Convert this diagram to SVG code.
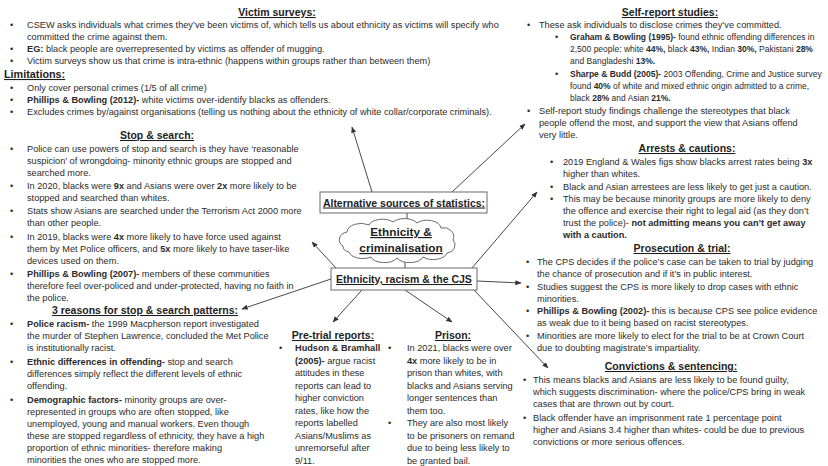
<svg xmlns="http://www.w3.org/2000/svg" width="828" height="466" viewBox="0 0 828 466">
<defs>
<style>
.t{font-family:"Liberation Sans",Arial,sans-serif;font-size:9.2px;fill:#2b2b2b}
.s{font-size:8.5px}
.h{font-family:"Liberation Sans",Arial,sans-serif;font-size:10.5px;font-weight:bold;text-decoration:underline;fill:#1e1e1e;text-anchor:middle}
.b{font-weight:bold}
.box{fill:#fff;stroke:#6a6a6a;stroke-width:1}
.c{stroke:#333;stroke-width:0.9;fill:none}
.a{marker-end:url(#ah)}
</style>
<marker id="ah" viewBox="0 0 10 10" refX="9" refY="5" markerWidth="7" markerHeight="7" orient="auto"><path d="M0,1 L10,5 L0,9 z" fill="#333"/></marker>
</defs>
<rect width="828" height="466" fill="#fff"/>

<g id="connectors">
<line class="c a" x1="372" y1="192" x2="352" y2="127"/>
<line class="c a" x1="452" y1="192" x2="525" y2="124"/>
<line class="c a" x1="472" y1="268" x2="537" y2="192"/>
<line class="c a" x1="477" y1="281" x2="521" y2="283"/>
<line class="c a" x1="474" y1="290" x2="548" y2="368"/>
<line class="c a" x1="405" y1="290" x2="452" y2="322"/>
<line class="c a" x1="362" y1="290" x2="333" y2="322"/>
<line class="c a" x1="331" y1="279" x2="242" y2="309"/>
<line class="c a" x1="336" y1="268" x2="312" y2="242"/>
<line class="c" x1="407" y1="213" x2="407" y2="223"/>
<line class="c" x1="405" y1="258" x2="405" y2="268"/>
</g>

<g id="alt-sources">
<rect class="box" x="320" y="192" width="167" height="21"/>
<text class="h" x="404" y="206.5">Alternative sources of statistics:</text>
</g>

<g id="cloud">
<path class="box" d="M343,246 a10,8 0 0 1 4,-14 a14,9 0 0 1 22,-7 a14,8 0 0 1 24,-3 a14,8 0 0 1 24,1 a14,9 0 0 1 24,5 a10,9 0 0 1 12,12 a9,8 0 0 1 -6,13 a14,8 0 0 1 -24,4 a14,8 0 0 1 -26,1 a14,8 0 0 1 -26,-1 a14,8 0 0 1 -22,-5 a8,6 0 0 1 -6,-6 z"/>
<text class="h" style="font-size:11.8px" x="401" y="236">Ethnicity &amp;</text>
<text class="h" style="font-size:11.8px" x="401" y="252">criminalisation</text>
</g>

<g id="cjs">
<rect class="box" x="331" y="268" width="146" height="22"/>
<text class="h" x="404" y="283">Ethnicity, racism &amp; the CJS</text>
</g>

<g id="victim-surveys">
<text class="h" x="277" y="16">Victim surveys:</text>
<text class="t" x="10" y="28">•</text>
<text class="t" x="27" y="28">CSEW asks individuals what crimes they’ve been victims of, which tells us about ethnicity as victims will specify who</text>
<text class="t" x="27" y="40">committed the crime against them.</text>
<text class="t" x="10" y="52">•</text>
<text class="t" x="27" y="52"><tspan class="b">EG:</tspan> black people are overrepresented by victims as offender of mugging.</text>
<text class="t" x="10" y="64">•</text>
<text class="t" x="27" y="64">Victim surveys show us that crime is intra-ethnic (happens within groups rather than between them)</text>
<text class="h" style="text-anchor:start;font-size:10.8px" x="4" y="78">Limitations:</text>
<text class="t" x="10" y="91">•</text>
<text class="t" x="27" y="91">Only cover personal crimes (1/5 of all crime)</text>
<text class="t" x="10" y="103">•</text>
<text class="t" x="27" y="103"><tspan class="b">Phillips &amp; Bowling (2012)-</tspan> white victims over-identify blacks as offenders.</text>
<text class="t" x="10" y="115">•</text>
<text class="t" x="27" y="115">Excludes crimes by/against organisations (telling us nothing about the ethnicity of white collar/corporate criminals).</text>
</g>

<g id="stop-search">
<text class="h" x="157" y="139">Stop &amp; search:</text>
<text class="t" x="10" y="152">•</text>
<text class="t" x="27" y="152">Police can use powers of stop and search is they have ‘reasonable</text>
<text class="t" x="27" y="164">suspicion’ of wrongdoing- minority ethnic groups are stopped and</text>
<text class="t" x="27" y="176">searched more.</text>
<text class="t" x="10" y="189">•</text>
<text class="t" x="27" y="189">In 2020, blacks were <tspan class="b">9x</tspan> and Asians were over <tspan class="b">2x</tspan> more likely to be</text>
<text class="t" x="27" y="201">stopped and searched than whites.</text>
<text class="t" x="10" y="214">•</text>
<text class="t" x="27" y="214">Stats show Asians are searched under the Terrorism Act 2000 more</text>
<text class="t" x="27" y="226">than other people.</text>
<text class="t" x="10" y="240">•</text>
<text class="t" x="27" y="240">In 2019, blacks were <tspan class="b">4x</tspan> more likely to have force used against</text>
<text class="t" x="27" y="252">them by Met Police officers, and <tspan class="b">5x</tspan> more likely to have taser-like</text>
<text class="t" x="27" y="264">devices used on them.</text>
<text class="t" x="10" y="277">•</text>
<text class="t" x="27" y="277"><tspan class="b">Phillips &amp; Bowling (2007)-</tspan> members of these communities</text>
<text class="t" x="27" y="289">therefore feel over-policed and under-protected, having no faith in</text>
<text class="t" x="27" y="301">the police.</text>
</g>

<g id="three-reasons">
<text class="h" x="145" y="314">3 reasons for stop &amp; search patterns:</text>
<text class="t" x="10" y="327">•</text>
<text class="t" x="27" y="327"><tspan class="b">Police racism-</tspan> the 1999 Macpherson report investigated</text>
<text class="t" x="27" y="339">the murder of Stephen Lawrence, concluded the Met Police</text>
<text class="t" x="27" y="351">is institutionally racist.</text>
<text class="t" x="10" y="365">•</text>
<text class="t" x="27" y="365"><tspan class="b">Ethnic differences in offending-</tspan> stop and search</text>
<text class="t" x="27" y="377">differences simply reflect the different levels of ethnic</text>
<text class="t" x="27" y="389">offending.</text>
<text class="t" x="10" y="403">•</text>
<text class="t" x="27" y="403"><tspan class="b">Demographic factors-</tspan> minority groups are over-</text>
<text class="t" x="27" y="415">represented in groups who are often stopped, like</text>
<text class="t" x="27" y="427">unemployed, young and manual workers. Even though</text>
<text class="t" x="27" y="439">these are stopped regardless of ethnicity, they have a high</text>
<text class="t" x="27" y="451">proportion of ethnic minorities- therefore making</text>
<text class="t" x="27" y="463">minorities the ones who are stopped more.</text>
</g>

<g id="pre-trial">
<text class="h" x="333" y="339">Pre-trial reports:</text>
<text class="t" x="279" y="351">•</text>
<text class="t" x="295" y="351"><tspan class="b">Hudson &amp; Bramhall</tspan></text>
<text class="t" x="295" y="364"><tspan class="b">(2005)-</tspan> argue racist</text>
<text class="t" x="295" y="376">attitudes in these</text>
<text class="t" x="295" y="389">reports can lead to</text>
<text class="t" x="295" y="401">higher conviction</text>
<text class="t" x="295" y="414">rates, like how the</text>
<text class="t" x="295" y="426">reports labelled</text>
<text class="t" x="295" y="439">Asians/Muslims as</text>
<text class="t" x="295" y="451">unremorseful after</text>
<text class="t" x="295" y="464">9/11.</text>
</g>

<g id="prison">
<text class="h" x="453" y="339">Prison:</text>
<text class="t" x="388" y="351">•</text>
<text class="t" x="407" y="351">In 2021, blacks were over</text>
<text class="t" x="407" y="364"><tspan class="b">4x</tspan> more likely to be in</text>
<text class="t" x="407" y="376">prison than whites, with</text>
<text class="t" x="407" y="389">blacks and Asians serving</text>
<text class="t" x="407" y="401">longer sentences than</text>
<text class="t" x="407" y="414">them too.</text>
<text class="t" x="388" y="426">•</text>
<text class="t" x="407" y="426">They are also most likely</text>
<text class="t" x="407" y="439">to be prisoners on remand</text>
<text class="t" x="407" y="451">due to being less likely to</text>
<text class="t" x="407" y="464">be granted bail.</text>
</g>

<g id="self-report">
<text class="h" x="670" y="16">Self-report studies:</text>
<text class="t" x="527" y="28">•</text>
<text class="t" x="539" y="28">These ask individuals to disclose crimes they’ve committed.</text>
<text class="t" x="555" y="40">•</text>
<text class="t s" x="570" y="40"><tspan class="b">Graham &amp; Bowling (1995)-</tspan> found ethnic offending differences in</text>
<text class="t s" x="570" y="52">2,500 people: white <tspan class="b">44%,</tspan> black <tspan class="b">43%,</tspan> Indian <tspan class="b">30%,</tspan> Pakistani <tspan class="b">28%</tspan></text>
<text class="t s" x="570" y="64">and Bangladeshi <tspan class="b">13%.</tspan></text>
<text class="t" x="555" y="77">•</text>
<text class="t s" x="570" y="77"><tspan class="b">Sharpe &amp; Budd (2005)-</tspan> 2003 Offending, Crime and Justice survey</text>
<text class="t s" x="570" y="89">found <tspan class="b">40%</tspan> of white and mixed ethnic origin admitted to a crime,</text>
<text class="t s" x="570" y="101">black <tspan class="b">28%</tspan> and Asian <tspan class="b">21%.</tspan></text>
<text class="t" x="527" y="114">•</text>
<text class="t" x="539" y="114">Self-report study findings challenge the stereotypes that black</text>
<text class="t" x="539" y="126">people offend the most, and support the view that Asians offend</text>
<text class="t" x="539" y="138">very little.</text>
</g>

<g id="arrests">
<text class="h" x="687" y="152">Arrests &amp; cautions:</text>
<text class="t" x="550" y="165">•</text>
<text class="t" x="563" y="165">2019 England &amp; Wales figs show blacks arrest rates being <tspan class="b">3x</tspan></text>
<text class="t" x="563" y="177">higher than whites.</text>
<text class="t" x="550" y="190">•</text>
<text class="t" x="563" y="190">Black and Asian arrestees are less likely to get just a caution.</text>
<text class="t" x="550" y="202">•</text>
<text class="t" x="563" y="202">This may be because minority groups are more likely to deny</text>
<text class="t" x="563" y="214">the offence and exercise their right to legal aid (as they don’t</text>
<text class="t" x="563" y="226">trust the police)- <tspan class="b">not admitting means you can’t get away</tspan></text>
<text class="t" x="563" y="238"><tspan class="b">with a caution.</tspan></text>
</g>

<g id="prosecution">
<text class="h" x="682" y="252">Prosecution &amp; trial:</text>
<text class="t" x="526" y="265">•</text>
<text class="t" x="537" y="265">The CPS decides if the police’s case can be taken to trial by judging</text>
<text class="t" x="537" y="277">the chance of prosecution and if it’s in public interest.</text>
<text class="t" x="526" y="290">•</text>
<text class="t" x="537" y="290">Studies suggest the CPS is more likely to drop cases with ethnic</text>
<text class="t" x="537" y="302">minorities.</text>
<text class="t" x="526" y="314">•</text>
<text class="t" x="537" y="314"><tspan class="b">Phillips &amp; Bowling (2002)-</tspan> this is because CPS see police evidence</text>
<text class="t" x="537" y="326">as weak due to it being based on racist stereotypes.</text>
<text class="t" x="526" y="339">•</text>
<text class="t" x="537" y="339">Minorities are more likely to elect for the trial to be at Crown Court</text>
<text class="t" x="537" y="351">due to doubting magistrate’s impartiality.</text>
</g>

<g id="convictions">
<text class="h" x="671" y="370">Convictions &amp; sentencing:</text>
<text class="t" x="523" y="383">•</text>
<text class="t" x="533" y="383">This means blacks and Asians are less likely to be found guilty,</text>
<text class="t" x="533" y="395">which suggests discrimination- where the police/CPS bring in weak</text>
<text class="t" x="533" y="407">cases that are thrown out by court.</text>
<text class="t" x="523" y="421">•</text>
<text class="t" x="533" y="421">Black offender have an imprisonment rate 1 percentage point</text>
<text class="t" x="533" y="433">higher and Asians 3.4 higher than whites- could be due to previous</text>
<text class="t" x="533" y="445">convictions or more serious offences.</text>
</g>
</svg>
